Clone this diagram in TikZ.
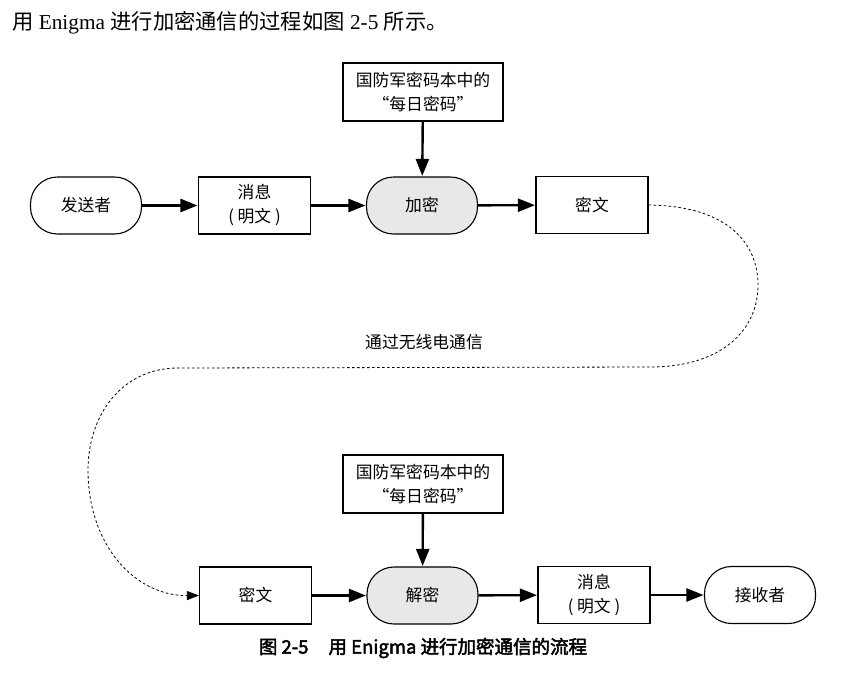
\documentclass[tikz,border=0pt]{standalone}
\usepackage{fontspec}
\setmainfont{Liberation Serif}
\newfontfamily\cjk{Noto Sans CJK SC}
\newfontfamily\cjkbold[FakeBold=2.5]{Noto Sans CJK SC}
\usetikzlibrary{arrows.meta}
\begin{document}
\begin{tikzpicture}[x=1pt,y=-1pt,
  txt/.style={font=\cjk\fontsize{16.8}{24}\selectfont, align=center, inner sep=0pt},
  boxnode/.style={txt, draw, line width=1.1pt, minimum width=112pt, minimum height=57pt},
  pill/.style={txt, draw, line width=1.1pt, rounded corners=27pt, minimum width=111pt, minimum height=57pt},
  graypill/.style={pill, fill=black!9},
  keybox/.style={txt, draw, line width=1.1pt, minimum width=160pt, minimum height=58pt},
  flow/.style={line width=2.4pt, -{Triangle[length=17pt,width=13pt]}, shorten >=0.5pt},
  radio/.style={line width=0.8pt, dash pattern=on 2.6pt off 2.4pt, -{Triangle[length=12pt,width=9pt]}}
]
\useasboundingbox (0,0) rectangle (863,683);
% intro line
\node[anchor=west, inner sep=0pt, font=\fontsize{21.3}{24}\selectfont] (intro) at (12,23)
  {{\cjk 用}\ Enigma {\cjk 进行加密通信的过程如图}\ 2-5 {\cjk 所示。}};
% top row
\node[keybox] (key1) at (423,92) {国防军密码本中的\\“每日密码”};
\node[pill] (send) at (86,205.5) {发送者};
\node[boxnode] (msg1) at (254.5,205.5) {消息\\( 明文 )};
\node[graypill] (enc) at (422,205.5) {加密};
\node[boxnode] (ct1) at (592,205) {密文};
% label
\node[txt] (radiolbl) at (424,342) {通过无线电通信};
% bottom row
\node[keybox] (key2) at (423,484) {国防军密码本中的\\“每日密码”};
\node[boxnode] (ct2) at (255.5,595.5) {密文};
\node[graypill] (dec) at (422.5,595.5) {解密};
\node[boxnode] (msg2) at (594,595) {消息\\( 明文 )};
\node[pill] (recv) at (760,595) {接收者};
% caption
\node[inner sep=0pt, font=\cjkbold\fontsize{18.5}{22}\selectfont] (cap) at (423,648)
  {图 2-5\hspace{20pt}用 Enigma 进行加密通信的流程};
% connectors
\draw[flow] (send) -- (msg1);
\draw[flow] (msg1) -- (enc);
\draw[flow] (enc) -- (ct1);
\draw[flow] (key1) -- (enc);
\draw[flow] (ct2) -- (dec);
\draw[flow] (dec) -- (msg2);
\draw[flow] (msg2) -- (recv);
\draw[flow] (key2) -- (dec);
\draw[radio] (ct1.east) .. controls (730,206) and (758,245) .. (758,285)
  .. controls (758,330) and (722,367) .. (650,367) -- (178,368)
  .. controls (122,368) and (88,415) .. (88,470)
  .. controls (88,545) and (135,596) .. (ct2.west);
\end{tikzpicture}
\end{document}
